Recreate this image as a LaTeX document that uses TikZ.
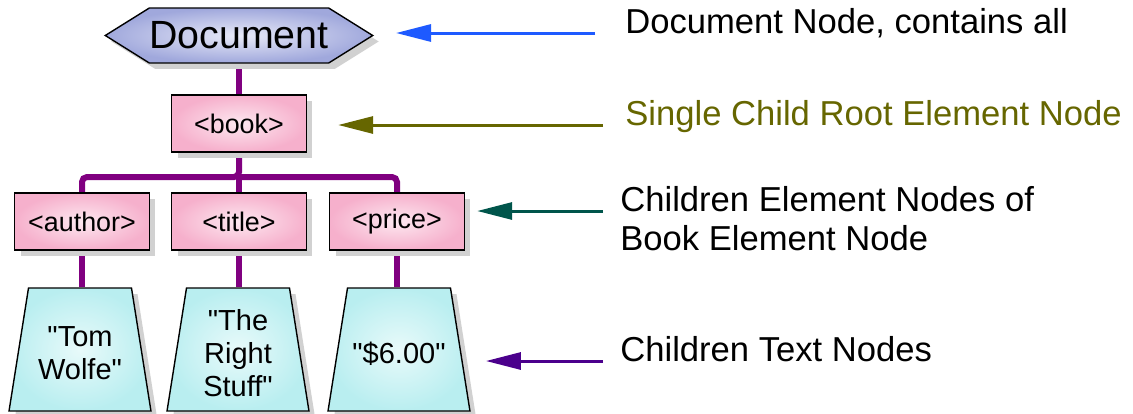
\documentclass[tikz,border=0pt]{standalone}
\usepackage{fontspec}
\setmainfont{Liberation Sans}
\usepackage{xcolor}
\usepackage{tikz}
\usetikzlibrary{arrows.meta,shapes.geometric,shapes.symbols,shadows,backgrounds}

\definecolor{stemcol}{RGB}{128,0,128}
\definecolor{docblue}{RGB}{30,90,255}
\definecolor{rootolive}{RGB}{102,102,0}
\definecolor{kidteal}{RGB}{0,85,75}
\definecolor{txtindigo}{RGB}{75,0,140}

% fixed-size text block for the value nodes
\newcommand{\valtext}[1]{\parbox[c][2.46cm][c]{2.06cm}{\centering\vspace*{0.16cm}#1}}

\begin{document}
\begin{tikzpicture}[
  x=0.02cm, y=-0.02cm,
  shadowed/.style={drop shadow={shadow xshift=0.12cm, shadow yshift=-0.12cm,
              fill=black!18, opacity=1}},
  docbox/.style={shape=signal, signal to=west and east, signal pointer angle=64,
              draw, line width=0.8pt, minimum width=5.34cm, minimum height=1.1cm,
              inner sep=0pt, inner color={rgb,255:red,232;green,234;blue,248},
              outer color={rgb,255:red,160;green,168;blue,220}, shadowed,
              font=\fontsize{22.4}{26}\selectfont},
  elem/.style={draw, line width=0.8pt, minimum width=2.7cm, minimum height=1.14cm,
              inner sep=0pt, inner color={rgb,255:red,253;green,232;blue,240},
              outer color={rgb,255:red,246;green,176;blue,204}, shadowed,
              font=\fontsize{15.3}{18}\selectfont},
  txt/.style={trapezium, trapezium left angle=81, trapezium right angle=81,
              draw, line width=0.8pt, inner sep=0pt,
              inner color={rgb,255:red,232;green,250;blue,250},
              outer color={rgb,255:red,185;green,238;blue,240}, shadowed,
              font=\fontsize{16.5}{18.8}\selectfont},
  stem/.style={stemcol, line width=0.12cm, rounded corners=0.1cm},
  lbl/.style={anchor=base west, inner sep=0pt,
              font=\fontsize{19.7}{22.5}\selectfont},
  ptr/.style={-{Triangle[length=0.7cm, width=0.34cm]}, line width=0.06cm}
]
\useasboundingbox (0,0) rectangle (1133,413);

% tree
\node[docbox] (doc) at (239,35.5) {Document};
\node[elem] (book) at (239,123.5) {<book>};
\node[elem] (author) at (82,221.5) {<author>};
\node[elem] (title) at (239,221.5) {<title>};
\node[elem] (price) at (397,221.5) {<price>};
\node[txt] (authortxt) at (80,349.5)
  {\valtext{\textquotedbl Tom\\Wolfe\textquotedbl}};
\node[txt] (titletxt) at (238,349.5)
  {\valtext{\textquotedbl The\\Right\\Stuff\textquotedbl}};
\node[txt] (pricetxt) at (399,349.5)
  {\valtext{\textquotedbl\$6.00\textquotedbl}};
\coordinate (split) at (239,177);

\begin{scope}[on background layer]
\draw[stem] (doc.south) -- (book.north);
\draw[stem] (book.south) -- (split) -| (author.north);
\draw[stem] (split) -| (price.north);
\draw[stem] (split) -- (title.north);
\draw[stem] (author.south) -- (author.south |- authortxt.north);
\draw[stem] (title.south) -- (title.south |- titletxt.north);
\draw[stem] (price.south) -- (price.south |- pricetxt.north);
\end{scope}

% callouts
\node[lbl] (doclbl) at (625,33) {Document Node, contains all};
\node[lbl, text=rootolive] (rootlbl) at (625,125) {Single Child Root Element Node};
\node[lbl] (kidlbl) at (620,211)
  {\begin{tabular}[t]{@{}l@{}}Children Element Nodes of\\Book Element Node\end{tabular}};
\node[lbl] (txtlbl) at (620,361) {Children Text Nodes};

\draw[ptr, docblue, shorten <=0.6cm, shorten >=0.44cm]
  (doclbl.base west) -- (doclbl.base west -| doc.east);
\draw[ptr, rootolive, shorten <=0.44cm, shorten >=0.62cm]
  (rootlbl.base west) -- (rootlbl.base west -| book.east);
\draw[ptr, kidteal, shorten <=0.34cm, shorten >=0.24cm]
  (kidlbl.base west) -- (kidlbl.base west -| price.east);
\draw[ptr, txtindigo, shorten <=0.34cm, shorten >=0.5cm]
  (txtlbl.base west) -- (txtlbl.base west -| pricetxt.east);
\end{tikzpicture}
\end{document}
